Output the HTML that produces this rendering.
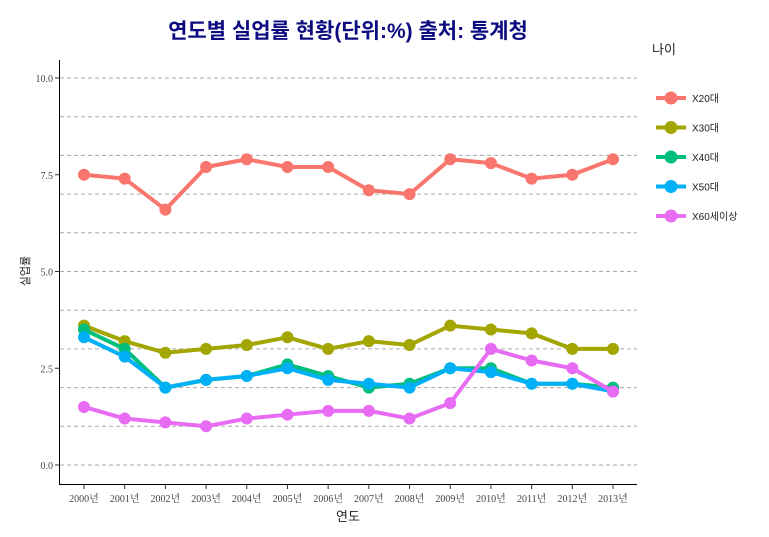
<!DOCTYPE html>
<html><head><meta charset="utf-8"><style>
body{margin:0;background:#fff;}
svg{display:block;font-family:"Liberation Serif","Noto Serif CJK SC",serif;}
.k{font-family:"Liberation Sans","Noto Sans CJK KR",sans-serif;}
</style></head><body>
<svg id="c" width="769" height="537">
<text x="348" y="38" text-anchor="middle" class="k" font-size="21" font-weight="bold" fill="#0c0c80">연도별 실업률 현황(단위:%) 출처: 통계청</text>
<g id="grid"></g>
<g id="axes"></g>
<g id="series"></g>
<text x="348" y="521" text-anchor="middle" class="k" font-size="13" fill="#222">연도</text>
<text transform="translate(29,271) rotate(-90)" text-anchor="middle" class="k" font-size="11" fill="#222">실업률</text>
<text x="652" y="54" class="k" font-size="13" fill="#222">나이</text>
<g id="legend"></g>
</svg>
<script>
const years=["2000년","2001년","2002년","2003년","2004년","2005년","2006년","2007년","2008년","2009년","2010년","2011년","2012년","2013년"];
const seriesNames=["X20대","X30대","X40대","X50대","X60세이상"];
const colors=["#f8766d","#a3a500","#00bf7d","#00b0f6","#e76bf3"];
const x20=[7.5,7.4,6.6,7.7,7.9,7.7,7.7,7.1,7.0,7.9,7.8,7.4,7.5,7.9];
const x30=[3.6,3.2,2.9,3.0,3.1,3.3,3.0,3.2,3.1,3.6,3.5,3.4,3.0,3.0];
const x40=[3.5,3.0,2.0,2.2,2.3,2.6,2.3,2.0,2.1,2.5,2.5,2.1,2.1,2.0];
const x50=[3.3,2.8,2.0,2.2,2.3,2.5,2.2,2.1,2.0,2.5,2.4,2.1,2.1,1.9];
const x60=[1.5,1.2,1.1,1.0,1.2,1.3,1.4,1.4,1.2,1.6,3.0,2.7,2.5,1.9];
const yTicks=[0,2.5,5,7.5,10];
const yTickLabels=["0.0","2.5","5.0","7.5","10.0"];
const gridVals=[0,1,2,3,4,5,6,7,8,9,10];
const data=[x20,x30,x40,x50,x60];
const NS="http://www.w3.org/2000/svg";
const X=i=>84+i*(613-84)/(years.length-1);
const Y=v=>465-v*38.7;
function mk(t,a,p){const e=document.createElementNS(NS,t);for(const k in a)e.setAttribute(k,a[k]);p.appendChild(e);return e;}
const grid=document.getElementById('grid'),axes=document.getElementById('axes'),ser=document.getElementById('series'),leg=document.getElementById('legend');
gridVals.forEach(v=>{const l=mk('line',{x1:60,x2:637,y1:Y(v),y2:Y(v),stroke:'#aaa','stroke-dasharray':'4,3','stroke-width':1},grid);

});
mk('line',{x1:59.5,x2:59.5,y1:60,y2:484,stroke:'#000'},axes);
mk('line',{x1:59,x2:637,y1:484.5,y2:484.5,stroke:'#000'},axes);
yTicks.forEach((v,i)=>{mk('line',{x1:55,x2:59,y1:Y(v),y2:Y(v),stroke:'#333'},axes);
const t=mk('text',{x:53,y:Y(v)+4,'text-anchor':'end','font-size':10,fill:'#444'},axes);t.textContent=yTickLabels[i];

});
years.forEach((y,i)=>{mk('line',{x1:X(i),x2:X(i),y1:485,y2:489,stroke:'#333'},axes);
const t=mk('text',{x:X(i),y:502,'text-anchor':'middle','font-size':10,fill:'#444'},axes);t.textContent=y;

});
data.forEach((d,s)=>{const g=mk('g',{},ser);


mk('polyline',{points:d.map((v,i)=>X(i)+','+Y(v)).join(' '),fill:'none',stroke:colors[s],'stroke-width':4,'stroke-linejoin':'round'},g);
d.forEach((v,i)=>{const c=mk('circle',{cx:X(i),cy:Y(v),r:6,fill:colors[s]},g);

});
const ly=98+s*29.5;const lg=mk('g',{},leg);


mk('line',{x1:656,x2:686,y1:ly,y2:ly,stroke:colors[s],'stroke-width':4},lg);
mk('circle',{cx:671,cy:ly,r:6.5,fill:colors[s]},lg);
const t=mk('text',{x:692,y:ly+4,'font-size':10,fill:'#222',class:'k'},lg);t.textContent=seriesNames[s];});
</script>
</body></html>
